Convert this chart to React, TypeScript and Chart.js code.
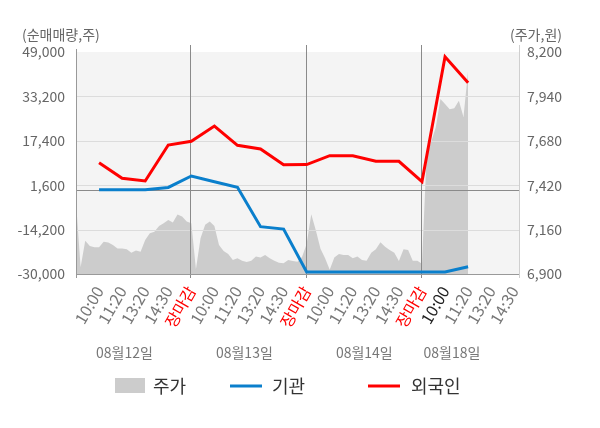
import { useEffect, useRef } from 'react';
import { Chart, registerables, type ChartConfiguration, type Plugin } from 'chart.js';

Chart.register(...registerables);

const FONT = "'Noto Sans CJK KR', 'Noto Sans', sans-serif";

// x axis: one slot per label, day separators at each 장마감
const timeLabels = [
  '10:00', '11:20', '13:20', '14:30', '장마감',
  '10:00', '11:20', '13:20', '14:30', '장마감',
  '10:00', '11:20', '13:20', '14:30', '장마감',
  '10:00', '11:20', '13:20', '14:30',
];
const dayLabels = ['08월12일', '08월13일', '08월14일', '08월18일'];

// net buying (주), one value per time slot
const foreignNet = [
  9600, 4050, 3090, 15900, 17220,
  22660, 15790, 14480, 8900, 8950,
  12100, 12100, 10100, 10100, 2840,
  47300, 38100,
];
const institutionNet = [
  0, 0, 0, 800, 4870,
  2800, 850, -13170, -14000, -29300,
  -29300, -29300, -29300, -29300, -29300,
  -29300, -27400,
];

// intraday price (원), sampled every 0.2 slot starting one slot before 10:00
const stockPrice = [
  // 08/12
  7320, 6940, 7095, 7064, 7056, 7056, 7089, 7084, 7070, 7050, 7050, 7045, 7025,
  7037, 7031, 7099, 7138, 7148, 7181, 7197, 7216, 7201, 7248, 7236, 7207, 7197,
  // 08/13
  6930, 7109, 7189, 7207, 7181, 7070, 7035, 7017, 6982, 6992, 6978, 6970, 6978,
  7002, 6996, 7011, 6992, 6978, 6966, 6963, 6982, 6976, 6972, 7000, 7075,
  // 08/14
  7250, 7154, 7048, 6992, 6925, 6996, 7017, 7011, 7011, 6992, 7002, 6982, 6978,
  7025, 7045, 7086, 7060, 7041, 7025, 6976, 7045, 7041, 6978, 6978, 6960,
  // 08/18
  7590, 7675, 7760, 7925, 7895, 7865, 7870, 7915, 7820, 8090,
];
const PRICE_STEP = 0.2;

const volumeTicks = [49000, 33200, 17400, 1600, -14200, -30000];
const priceTicks = [8200, 7940, 7680, 7420, 7160, 6900];

const dayLabelAt = [1.1, 6.3, 11.5, 15.3];

const RED = '#ff0000';
const BLUE = '#0a7fcc';
const AREA = '#cccccc';

const framePlugin: Plugin<'line'> = {
  id: 'frame',
  beforeDraw(chart) {
    const { ctx, chartArea: a } = chart;
    ctx.save();
    ctx.fillStyle = '#f4f4f4';
    ctx.fillRect(a.left, a.top, a.right - a.left, a.bottom - a.top);
    ctx.restore();
  },
  afterDatasetDraw(chart, args) {
    if (args.index !== 2) return;
    const { ctx, chartArea: a, scales } = chart;
    const px = (v: number) => Math.round(v) + 0.5;
    ctx.save();
    ctx.lineWidth = 1;

    ctx.strokeStyle = '#dcdcdc';
    volumeTicks.slice(1, -1).forEach((v) => {
      const y = px(scales.y.getPixelForValue(v));
      ctx.beginPath();
      ctx.moveTo(a.left, y);
      ctx.lineTo(a.right, y);
      ctx.stroke();
    });

    ctx.strokeStyle = '#8a8a8a';
    const y0 = px(scales.y.getPixelForValue(0));
    ctx.beginPath();
    ctx.moveTo(a.left, y0);
    ctx.lineTo(a.right, y0);
    ctx.stroke();

    timeLabels.forEach((t, i) => {
      if (t !== '장마감') return;
      const x = px(scales.x.getPixelForValue(i) - 1);
      ctx.beginPath();
      ctx.moveTo(x, a.top - 7);
      ctx.lineTo(x, a.bottom + 4);
      ctx.stroke();
    });

    ctx.strokeStyle = '#999';
    const l = px(a.left);
    const b = px(a.bottom);
    ctx.beginPath();
    ctx.moveTo(l, a.top - 3);
    ctx.lineTo(l, a.bottom + 4);
    ctx.moveTo(a.left, b);
    ctx.lineTo(a.right, b);
    ctx.stroke();

    ctx.strokeStyle = '#cfcfcf';
    const r = px(a.right - 1);
    ctx.beginPath();
    ctx.moveTo(r, a.top - 7);
    ctx.lineTo(r, a.bottom + 4);
    ctx.stroke();
    ctx.restore();
  },
  afterDraw(chart) {
    const { ctx, scales } = chart;
    ctx.save();
    ctx.textBaseline = 'middle';

    ctx.font = `14px ${FONT}`;
    ctx.fillStyle = '#666';
    ctx.textAlign = 'left';
    ctx.fillText('(순매매량,주)', 22, 35);
    ctx.fillText('(주가,원)', 510, 35);

    ctx.textAlign = 'center';
    ctx.fillStyle = '#777';
    dayLabels.forEach((d, i) => {
      ctx.fillText(d, scales.x.getPixelForValue(dayLabelAt[i]), 353);
    });

    // legend
    const ly = 386;
    ctx.font = `18px ${FONT}`;
    ctx.textAlign = 'left';
    ctx.fillStyle = AREA;
    ctx.fillRect(115, ly - 8, 30, 15);
    ctx.fillStyle = '#333';
    ctx.fillText('주가', 153, ly);

    ctx.lineWidth = 3;
    ctx.strokeStyle = BLUE;
    ctx.beginPath();
    ctx.moveTo(230, ly);
    ctx.lineTo(262, ly);
    ctx.stroke();
    ctx.fillText('기관', 272, ly);

    ctx.strokeStyle = RED;
    ctx.beginPath();
    ctx.moveTo(368, ly);
    ctx.lineTo(400, ly);
    ctx.stroke();
    ctx.fillText('외국인', 411, ly);
    ctx.restore();
  },
};

export default function App() {
  const canvasRef = useRef<HTMLCanvasElement>(null);
  const chartRef = useRef<Chart<'line'> | null>(null);

  useEffect(() => {
    document.body.style.margin = '0';
    if (!canvasRef.current) return;

    const config: ChartConfiguration<'line'> = {
      type: 'line',
      data: {
        datasets: [
          {
            label: '외국인',
            data: foreignNet.map((v, i) => ({ x: i, y: v })),
            borderColor: RED,
            borderWidth: 3,
            pointRadius: 0,
            tension: 0,
            yAxisID: 'y',
          },
          {
            label: '기관',
            data: institutionNet.map((v, i) => ({ x: i, y: v })),
            borderColor: BLUE,
            borderWidth: 3,
            pointRadius: 0,
            tension: 0,
            yAxisID: 'y',
          },
          {
            label: '주가',
            data: stockPrice.map((v, j) => ({ x: -1 + j * PRICE_STEP, y: v })),
            borderColor: AREA,
            backgroundColor: AREA,
            borderWidth: 0,
            pointRadius: 0,
            tension: 0,
            fill: 'start',
            yAxisID: 'y1',
          },
        ],
      },
      options: {
        responsive: false,
        animation: false,
        layout: { padding: { top: 52, left: 0, right: 0, bottom: 0 } },
        scales: {
          x: {
            type: 'linear',
            min: -1,
            max: 18.25,
            afterBuildTicks: (s) => {
              s.ticks = timeLabels.map((_, i) => ({ value: i }));
            },
            afterFit: (s) => {
              s.height = 154;
            },
            grid: { display: false, drawTicks: false },
            border: { display: false },
            ticks: {
              autoSkip: false,
              minRotation: 60,
              maxRotation: 60,
              padding: 9,
              font: { family: FONT, size: 16 },
              color: (c) => {
                const t = timeLabels[c.index];
                if (t === '장마감') return RED;
                return c.index === 15 ? '#222' : '#777';
              },
              callback: (_v, i) => timeLabels[i],
            },
          },
          y: {
            position: 'left',
            min: -30000,
            max: 49000,
            afterBuildTicks: (s) => {
              s.ticks = volumeTicks.map((v) => ({ value: v }));
            },
            afterFit: (s) => {
              s.width = 76;
            },
            grid: { display: false, drawTicks: false },
            border: { display: false },
            ticks: {
              padding: 11,
              color: '#666',
              font: { family: FONT, size: 14 },
              callback: (v) => Number(v).toLocaleString('en-US'),
            },
          },
          y1: {
            position: 'right',
            min: 6900,
            max: 8200,
            afterBuildTicks: (s) => {
              s.ticks = priceTicks.map((v) => ({ value: v }));
            },
            afterFit: (s) => {
              s.width = 80;
            },
            grid: { display: false, drawTicks: false },
            border: { display: false },
            ticks: {
              padding: 7,
              color: '#666',
              font: { family: FONT, size: 14 },
              callback: (v) => Number(v).toLocaleString('en-US'),
            },
          },
        },
        plugins: {
          legend: { display: false },
          tooltip: { enabled: false },
        },
      },
      plugins: [framePlugin],
    };

    chartRef.current = new Chart(canvasRef.current, config);
    return () => {
      chartRef.current?.destroy();
      chartRef.current = null;
    };
  }, []);

  return (
    <div style={{ width: 600, height: 428 }}>
      <canvas ref={canvasRef} width={600} height={428} style={{ display: 'block' }} />
    </div>
  );
}
